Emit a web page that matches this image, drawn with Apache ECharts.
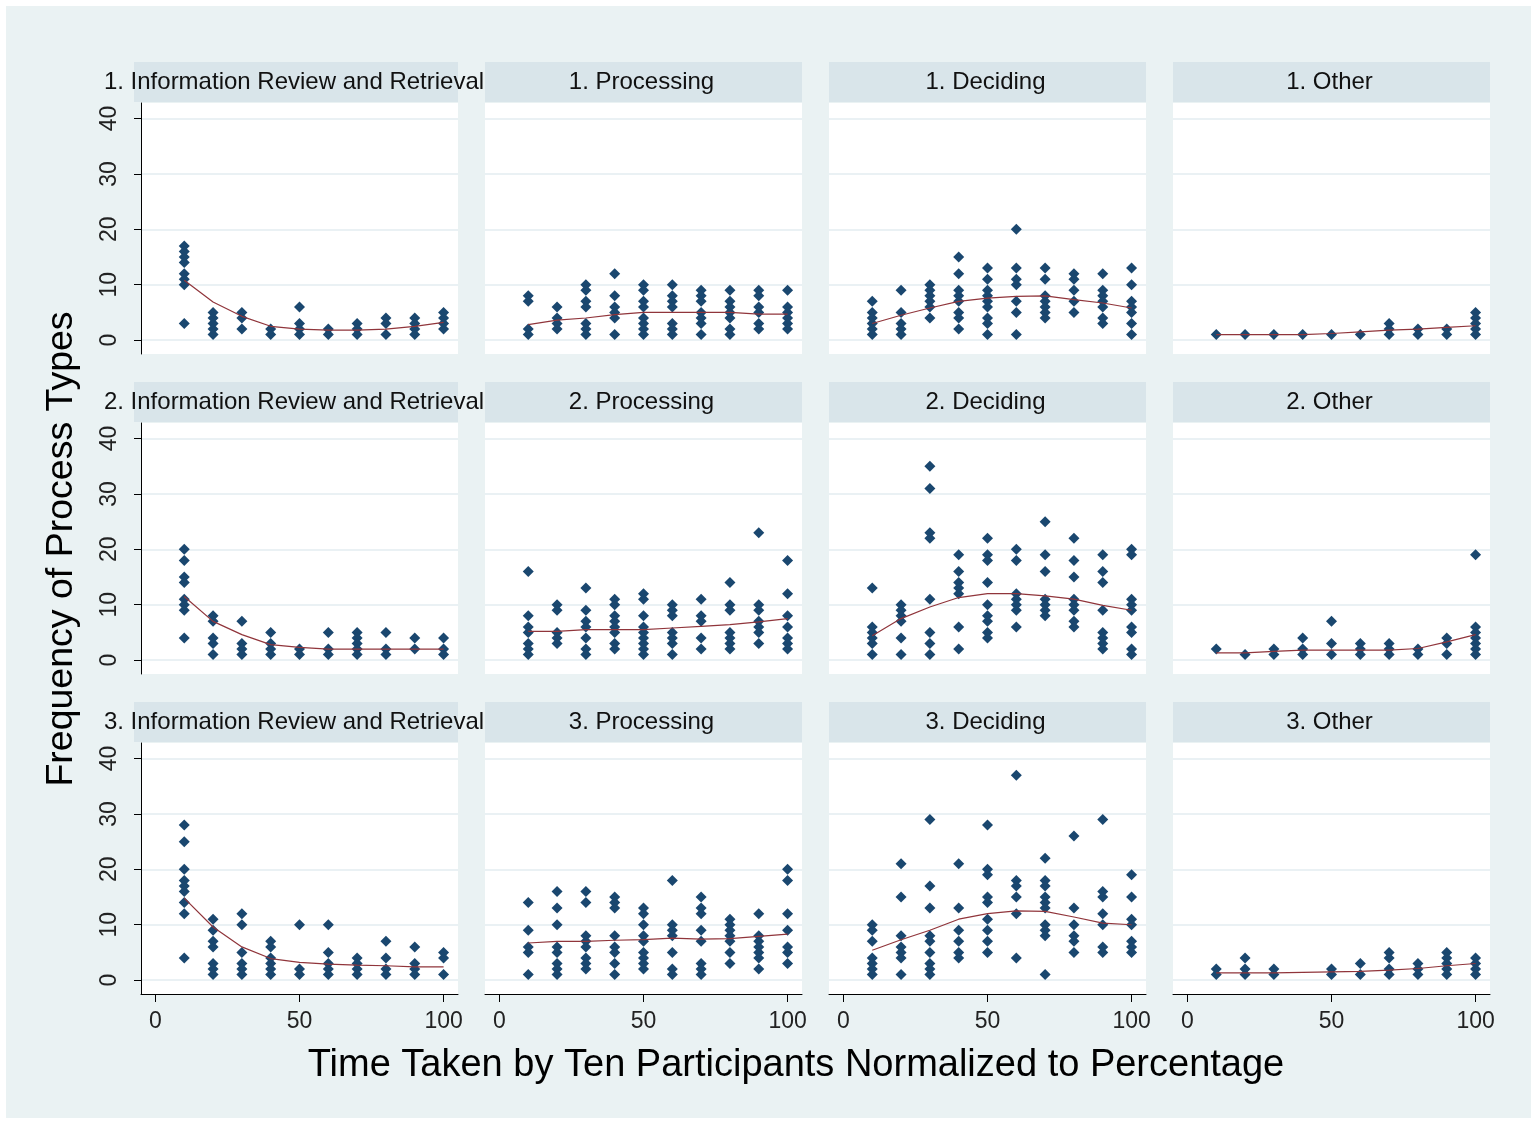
<!DOCTYPE html>
<html><head><meta charset="utf-8">
<script src="https://cdn.jsdelivr.net/npm/echarts@6/dist/echarts.min.js"></script>
<style>html,body{margin:0;padding:0;background:#fff;} #c{position:absolute;left:0;top:0;width:1537px;height:1124px;}</style>
</head><body><div id="c"></div>
<script>
const xValues = [10,20,30,40,50,60,70,80,90,100];
const yTicks = [0,10,20,30,40];
const xTicks = [0,50,100];
const rowLabels = ['1','2','3'];
const processNames = ['Information Review and Retrieval','Processing','Deciding','Other'];
const yTitle = 'Frequency of Process Types';
const xTitle = 'Time Taken by Ten Participants Normalized to Percentage';

// Row 1
const info1 = [[17,16,15,14,12,11,10,3],[5,4,3,2,1],[5,4,2],[2,1],[6,3,2,1],[2,1],[3,2,1],[4,3,1],[4,3,2,1],[5,4,3,2]];
const info1Fit = [10.8,6.9,4.3,2.5,2.0,1.8,1.8,2.0,2.5,3.2];
const proc1 = [[8,7,2,1],[6,4,3,2],[10,9,7,6,3,2,1],[12,8,6,5,4,1],[10,9,7,6,4,3,2,1],[10,8,7,6,3,2,1],[9,8,7,5,4,3,1],[9,7,6,5,4,2,1],[9,8,6,5,3,2],[9,6,5,4,3,2]];
const proc1Fit = [2.8,3.6,4.0,4.6,5.0,5.0,5.0,5.0,4.7,4.7];
const deci1 = [[7,5,4,3,2,1],[9,5,3,2,1],[10,9,8,7,6,4],[15,12,9,8,7,5,4,2],[13,11,9,8,7,6,4,3,1],[20,13,11,10,7,5,1],[13,11,8,7,6,5,4],[12,11,9,7,5],[12,9,8,7,6,4,3],[13,10,7,6,5,3,1]];
const deci1Fit = [3.0,4.5,5.8,7.0,7.6,7.9,8.0,7.3,6.7,5.8];
const other1 = [[1],[1],[1],[1],[1],[1],[3,2,1],[2,1],[2,1],[5,4,3,2,1]];
const other1Fit = [1.0,1.0,1.0,1.0,1.2,1.5,1.8,2.0,2.3,2.6];

// Row 2
const info2 = [[20,18,15,14,11,10,9,4],[8,7,4,3,1],[7,3,2,1],[5,3,2,1],[2,1],[5,2,1],[5,4,3,2,1],[5,2,1],[4,2],[4,2,1]];
const info2Fit = [11.5,7.0,4.6,2.8,2.3,2.0,2.0,2.0,2.0,2.0];
const proc2 = [[16,8,6,5,3,2,1],[10,9,5,4,3],[13,9,7,6,4,2,1],[11,10,8,7,6,5,3,2],[12,11,8,6,5,4,3,2,1],[10,9,8,5,4,3,1],[11,8,7,4,2],[14,10,9,5,4,3,2],[23,10,9,7,6,5,3],[18,12,8,6,4,3,2]];
const proc2Fit = [5.2,5.2,5.5,5.5,5.5,5.8,6.1,6.4,6.9,7.5];
const deci2 = [[13,6,5,4,3,1],[10,9,8,7,4,1],[35,31,23,22,11,5,3,1],[19,16,14,13,12,6,2],[22,19,18,14,10,8,7,5,4],[20,18,12,11,10,9,6],[25,19,16,11,10,9,8],[22,18,15,11,10,9,7,6],[19,16,14,9,5,4,3,2],[20,19,11,10,9,6,5,2,1]];
const deci2Fit = [4.4,7.5,9.6,11.3,12.0,12.0,11.6,11.0,9.9,9.0];
const other2 = [[2],[1],[2,1],[4,2,1],[7,3,1],[3,2,1],[3,2,1],[2,1],[4,3,1],[19,6,5,4,3,2,1]];
const other2Fit = [1.3,1.3,1.6,1.8,1.8,1.8,1.8,2.1,3.3,4.6];

// Row 3
const info3 = [[28,25,20,18,17,16,14,12,4],[11,9,7,6,3,2,1],[12,10,5,3,2,1],[7,6,4,3,2,1],[10,2,1],[10,5,3,2,1],[4,3,2,1],[7,4,2,1],[6,3,2,1],[5,4,1]];
const info3Fit = [14.8,9.6,6.0,3.9,3.2,2.9,2.7,2.6,2.4,2.4];
const proc3 = [[14,9,6,5,1],[16,13,10,6,5,3,2,1],[16,14,8,7,6,4,3,2],[15,14,13,8,6,5,3,1],[13,12,10,8,7,5,4,3,2],[18,10,9,8,5,2,1],[15,13,12,9,7,3,2,1],[11,10,9,8,7,5,3],[12,8,7,6,5,4,2],[20,18,12,9,6,5,3]];
const proc3Fit = [6.7,7.0,7.0,7.2,7.3,7.6,7.4,7.5,7.9,8.3];
const deci3 = [[10,9,7,4,3,2,1],[21,15,8,6,5,4,1],[29,17,13,8,7,5,3,2,1],[21,13,9,7,5,4],[28,20,19,15,14,11,9,7,5],[37,18,17,15,12,4],[22,18,17,15,14,13,10,9,8,1],[26,13,10,8,7,5],[29,16,15,12,10,6,5],[19,15,11,10,7,6,5]];
const deci3Fit = [5.4,7.3,9.0,11.0,12.0,12.5,12.4,11.4,10.3,10.0];
const other3 = [[2,1],[4,2,1],[2,1],[],[2,1],[3,1],[5,4,2,1],[3,2,1],[5,4,3,2,1],[4,3,2,1]];
const other3Fit = [1.3,1.3,1.3,null,1.5,1.6,1.8,2.1,2.6,3.0];

const panels = [
  [[info1,info1Fit],[proc1,proc1Fit],[deci1,deci1Fit],[other1,other1Fit]],
  [[info2,info2Fit],[proc2,proc2Fit],[deci2,deci2Fit],[other2,other2Fit]],
  [[info3,info3Fit],[proc3,proc3Fit],[deci3,deci3Fit],[other3,other3Fit]]
];

const FONT = '"Liberation Sans", Arial, sans-serif';
const colLeft = [141, 485, 829, 1173];
const plotW = 317;
const rowTop = [103, 423, 743];
const plotH = 251;
const stripH = 40;
const stripGap = 1;
const NAVY = '#1a476f', MAROON = '#90353b', STRIP = '#d9e5ea', BG = '#eaf2f3', GRIDC = '#e3ecf0';

const grids = [], xAxes = [], yAxes = [], series = [];
const graphics = [
  {type:'rect', shape:{x:6,y:6,width:1525,height:1112}, style:{fill:BG}, z:-100, silent:true}
];

for (let r = 0; r < 3; r++) {
  for (let c = 0; c < 4; c++) {
    const idx = r*4 + c;
    grids.push({left: colLeft[c], top: rowTop[r], width: plotW, height: plotH,
      show: true, backgroundColor: '#fff', borderWidth: 0, containLabel: false});
    const bottomRow = r === 2;
    xAxes.push({
      type:'value', gridIndex: idx, min: -5, max: 105, position:'bottom',
      axisLine:{show: bottomRow, onZero:false, lineStyle:{color:'#000', width:1}},
      axisTick:{show: bottomRow, length:8, lineStyle:{color:'#000'}, customValues: xTicks},
      axisLabel:{show: bottomRow, fontSize:23, color:'#222', fontFamily:FONT, margin:16, customValues: xTicks},
      splitLine:{show:false}
    });
    const firstCol = c === 0;
    yAxes.push({
      type:'value', gridIndex: idx, min: -2.5, max: 42.8,
      axisLine:{show: firstCol, onZero:false, lineStyle:{color:'#000', width:1}},
      axisTick:{show: firstCol, length:7, lineStyle:{color:'#000'}, customValues: yTicks},
      axisLabel:{show: firstCol, rotate:90, fontSize:23, color:'#222', fontFamily:FONT, margin:20, customValues: yTicks},
      splitLine:{show:true, lineStyle:{color:GRIDC, width:1.5}}
    });
    const [pts, fit] = panels[r][c];
    const scatterData = [];
    xValues.forEach((x, i) => pts[i].forEach(y => scatterData.push([x, y])));
    series.push({type:'scatter', xAxisIndex: idx, yAxisIndex: idx, data: scatterData,
      symbol:'diamond', symbolSize:11, itemStyle:{color:NAVY, opacity:1}, z:2});
    series.push({type:'line', xAxisIndex: idx, yAxisIndex: idx,
      data: xValues.map((x,i)=>[x, fit[i]]), connectNulls:true,
      symbol:'none', lineStyle:{color:MAROON, width:1.2}, z:3});

    // strip header
    const sx = c === 0 ? 134 : colLeft[c];
    const sw = c === 0 ? (colLeft[0] + plotW - 134) : plotW;
    const sy = rowTop[r] - stripGap - stripH;
    graphics.push({type:'rect', shape:{x:sx, y:sy, width:sw, height:stripH}, style:{fill:STRIP}, z:-50, silent:true});
    graphics.push({type:'text', x: sx + sw/2 - 2, y: sy + stripH/2,
      style:{text: rowLabels[r] + '. ' + processNames[c], fill:'#111', font:'24px ' + FONT,
        textAlign:'center', textVerticalAlign:'middle'}, z:10, silent:true});
  }
}

graphics.push({type:'text', x: 62, y: 549, rotation: Math.PI/2,
  style:{text: yTitle, fill:'#000', font:'37.5px ' + FONT, textAlign:'center', textVerticalAlign:'middle'}, z:10});
graphics.push({type:'text', x: 796, y: 1066,
  style:{text: xTitle, fill:'#000', font:'38px ' + FONT, textAlign:'center', textVerticalAlign:'middle'}, z:10});

const chart = echarts.init(document.getElementById('c'));
chart.setOption({
  backgroundColor:'#fff',
  animation:false,
  grid: grids, xAxis: xAxes, yAxis: yAxes, series: series,
  graphic: graphics
});
</script>
</body></html>
